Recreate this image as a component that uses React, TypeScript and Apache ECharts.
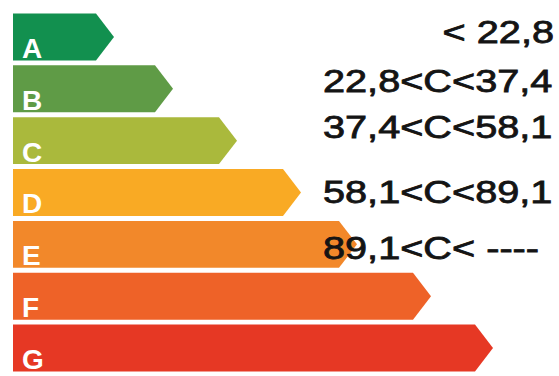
import React, { useEffect, useRef } from "react";
import * as echarts from "echarts";

// ---- data ----
const categories = ["A", "B", "C", "D", "E", "F", "G"];
const barLengths = [101, 160, 224, 288, 344, 418, 480];
const rangeLabels = ["< 22,8", "22,8<C<37,4", "37,4<C<58,1", "58,1<C<89,1", "89,1<C< ----"];

// ---- styles / layout ----
const barColors = ["#12904f", "#5f9b46", "#aab93c", "#f9aa24", "#f2882a", "#ee6228", "#e63824"];
const labelDy = [-4, -7, -13, 0, 4];
const labelAlign = ["right", "left", "left", "left", "left"];
const LABEL_LEFT_PX = 323;
const LABEL_RIGHT_PX = 554;
const TIP = 18;

export default function App() {
  const ref = useRef<HTMLDivElement>(null);
  useEffect(() => {
    if (!ref.current) return;
    const chart = echarts.init(ref.current, null, { renderer: "svg" });
    const data = barLengths.map((v, i) => [v, i]);
    chart.setOption({
      animation: false,
      backgroundColor: "#ffffff",
      grid: { left: 13, right: 0, top: 11, height: 363 },
      xAxis: { type: "value", min: 0, max: 546, show: false },
      yAxis: { type: "category", data: categories, inverse: true, show: false },
      series: [
        {
          type: "custom",
          data,
          encode: { x: 0, y: 1 },
          renderItem: (params: any, api: any) => {
            const len = api.value(0) as number;
            const i = api.value(1) as number;
            const left = api.coord([0, i]);
            const end = api.coord([len, i]);
            const band = api.size([0, 1])[1];
            const h = band * 0.905;
            const yc = left[1];
            const top = yc - h / 2;
            const bot = yc + h / 2;
            const children: any[] = [
              {
                type: "polygon",
                shape: {
                  points: [
                    [left[0], top],
                    [end[0] - TIP, top],
                    [end[0], yc],
                    [end[0] - TIP, bot],
                    [left[0], bot],
                  ],
                },
                style: { fill: barColors[i] },
              },
              {
                type: "text",
                x: left[0] + 9,
                y: bot - 12,
                style: {
                  x: 0,
                  y: 0,
                  text: categories[i],
                  fill: "#ffffff",
                  fontSize: 28,
                  lineHeight: 20,
                  fontWeight: "bold",
                  fontFamily: "'Liberation Sans', Arial, sans-serif",
                  align: "left",
                  verticalAlign: "middle",
                },
              },
            ];
            if (i < rangeLabels.length) {
              const al = labelAlign[i];
              children.push({
                type: "text",
                x: al === "right" ? LABEL_RIGHT_PX : LABEL_LEFT_PX,
                y: yc + labelDy[i],
                scaleX: 1.28,
                style: {
                  x: 0,
                  y: 0,
                  text: rangeLabels[i],
                  fill: "#141414",
                  fontSize: 31,
                  fontFamily: "'Liberation Sans', Arial, sans-serif",
                  align: al,
                  verticalAlign: "middle",
                  stroke: "#141414",
                  lineWidth: 0.8,
                },
              });
            }
            return { type: "group", children };
          },
        },
      ],
    });
    return () => chart.dispose();
  }, []);
  return (
    <div
      ref={ref}
      style={{ position: "absolute", left: 0, top: 0, width: 559, height: 376 }}
    />
  );
}
